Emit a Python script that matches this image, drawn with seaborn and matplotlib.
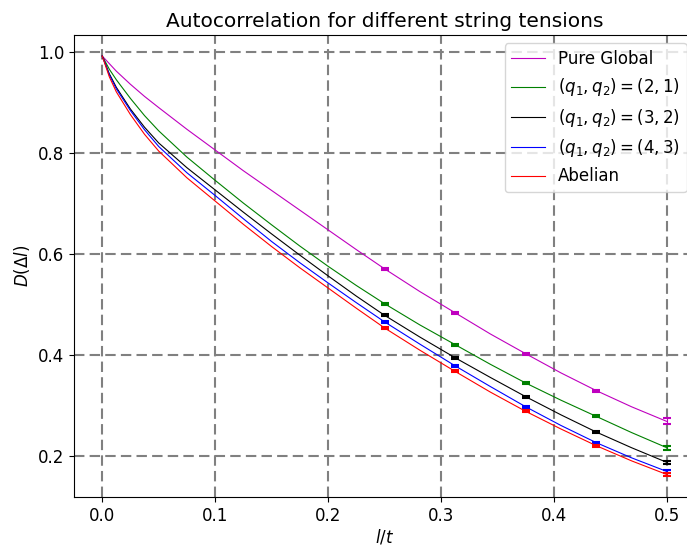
import numpy as np
import seaborn as sns
import matplotlib
matplotlib.use('Agg')
import matplotlib.pyplot as plt

# x grid (l/t) and the curves
l_t = [0, 0.00625, 0.0125, 0.025, 0.0375, 0.05, 0.075, 0.1, 0.125, 0.15, 0.175,
       0.2, 0.225, 0.25, 0.28125, 0.3125, 0.34375, 0.375, 0.40625, 0.4375,
       0.46875, 0.5]
pure_global = [0.992, 0.977, 0.962, 0.936, 0.912, 0.890, 0.847, 0.806, 0.765, 0.726, 0.687,
               0.648, 0.609, 0.571, 0.526, 0.484, 0.442, 0.403, 0.365, 0.330,
               0.298, 0.269]
q21 = [0.992, 0.966, 0.945, 0.908, 0.874, 0.844, 0.792, 0.746, 0.701, 0.658, 0.616,
       0.576, 0.538, 0.502, 0.460, 0.421, 0.382, 0.345, 0.311, 0.279,
       0.247, 0.217]
q32 = [0.992, 0.957, 0.930, 0.887, 0.851, 0.820, 0.771, 0.727, 0.683, 0.640, 0.598,
       0.557, 0.517, 0.479, 0.436, 0.395, 0.356, 0.318, 0.282, 0.248,
       0.217, 0.188]
q43 = [0.992, 0.955, 0.927, 0.884, 0.846, 0.813, 0.761, 0.716, 0.670, 0.625, 0.583,
       0.543, 0.504, 0.466, 0.422, 0.379, 0.338, 0.298, 0.261, 0.227,
       0.197, 0.170]
abelian = [0.992, 0.951, 0.921, 0.876, 0.837, 0.804, 0.751, 0.705, 0.659, 0.615, 0.573,
           0.533, 0.493, 0.454, 0.410, 0.368, 0.327, 0.289, 0.254, 0.221,
           0.191, 0.164]

# points with error bars
err_idx = [13, 15, 17, 19, 21]
err_pure = [0.002, 0.002, 0.002, 0.002, 0.006]
err_q21 = [0.002, 0.002, 0.002, 0.002, 0.004]
err_q32 = [0.002, 0.002, 0.002, 0.002, 0.003]
err_q43 = [0.002, 0.002, 0.002, 0.002, 0.003]
err_abel = [0.002, 0.002, 0.002, 0.002, 0.003]

series = [
    ('Pure Global', pure_global, err_pure, 'm'),
    (r'$(q_1, q_2) = (2, 1)$', q21, err_q21, 'g'),
    (r'$(q_1, q_2) = (3, 2)$', q32, err_q32, 'k'),
    (r'$(q_1, q_2) = (4, 3)$', q43, err_q43, 'b'),
    ('Abelian', abelian, err_abel, 'r'),
]

fig = plt.figure(figsize=(6.87, 5.47), dpi=100)
ax = fig.add_axes([0.1077, 0.0914, 0.904, 0.8446])

for label, vals, errs, col in series:
    sns.lineplot(x=l_t, y=vals, color=col, lw=0.8, label=label, ax=ax)
    xe = [l_t[i] for i in err_idx]
    ye = [vals[i] for i in err_idx]
    ax.errorbar(xe, ye, yerr=errs, fmt='none', ecolor=col, elinewidth=0.8,
                capsize=3, capthick=1.5)

ax.grid(True, linestyle=(0, (5, 2.5)), linewidth=1.5, color='gray')
ax.set_title('Autocorrelation for different string tensions', fontsize=14.5)
ax.set_xlabel('$l/t$', fontsize=12, labelpad=2)
ax.set_ylabel(r'$D(\Delta l)$', fontsize=12)
ax.tick_params(labelsize=12)
ax.set_yticks([0.2, 0.4, 0.6, 0.8, 1.0])
ax.legend(loc='upper right', fontsize=12)

fig.savefig('out.png', dpi=100)
